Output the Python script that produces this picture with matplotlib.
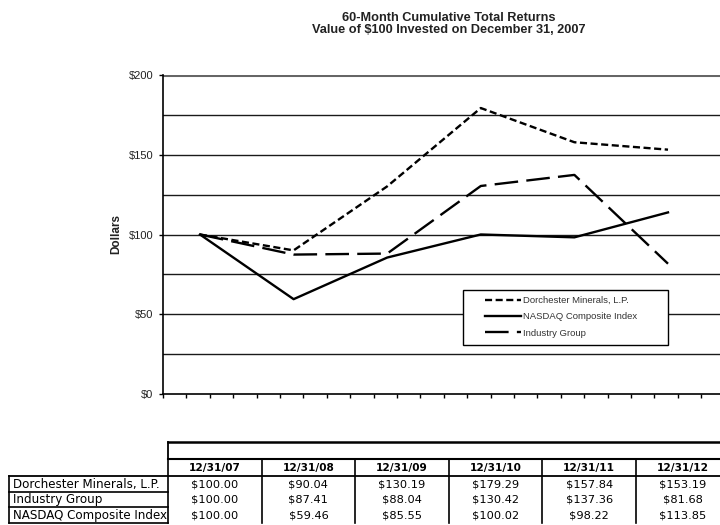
import matplotlib
matplotlib.use("Agg")
import matplotlib.pyplot as plt
from matplotlib.lines import Line2D
from matplotlib.patches import Rectangle
from matplotlib.transforms import Bbox, TransformedBbox
import numpy as np

# ---------------- data ----------------
dates = ["12/31/07", "12/31/08", "12/31/09", "12/31/10", "12/31/11", "12/31/12"]
dorchester = [100.00, 90.04, 130.19, 179.29, 157.84, 153.19]
industry = [100.00, 87.41, 88.04, 130.42, 137.36, 81.68]
nasdaq = [100.00, 59.46, 85.55, 100.02, 98.22, 113.85]
row_labels = ["Dorchester Minerals, L.P.", "Industry Group", "NASDAQ Composite Index"]
title_lines = ["60-Month Cumulative Total Returns",
               "Value of $100 Invested on December 31, 2007"]
y_label = "Dollars"
y_ticks = [0, 50, 100, 150, 200]
y_grid = [25, 50, 75, 100, 125, 150, 175]

# ---------------- layout helpers (pixels) ----------------
W, H = 720, 525
fig = plt.figure(figsize=(7.2, 5.25), dpi=100)

def fx(px):
    return px / W

def fy(py):
    return 1 - py / H

ax_l, ax_r, ax_t, ax_b = 163, 720, 75, 394
ax = fig.add_axes([fx(ax_l), fy(ax_b), (ax_r - ax_l) / W, (ax_b - ax_t) / H])

step_px = 93.6
first_px = 200
x = np.arange(len(dates))
x0 = -(first_px - ax_l) / step_px
x1 = (ax_r - first_px) / step_px
ax.set_xlim(x0, x1)
ax.set_ylim(0, 200)

for g in y_grid:
    ax.axhline(g, color="#1a1a1a", lw=1.0, zorder=1)
ax.axhline(200, color="#666666", lw=2.2, zorder=1)

ax.plot(x, dorchester, color="black", lw=1.7, dashes=(3.0, 1.5), zorder=3)
ax.plot(x, nasdaq, color="black", lw=1.7, zorder=3)
ax.plot(x, industry, color="black", lw=1.7, dashes=(10, 3.5), zorder=3)

for s in ["top", "right"]:
    ax.spines[s].set_visible(False)
for s in ["left", "bottom"]:
    ax.spines[s].set_color("black")
    ax.spines[s].set_linewidth(1.2)

ax.set_yticks(y_ticks)
ax.set_yticklabels(["$%d" % v for v in y_ticks], family="Liberation Sans",
                   fontsize=8, color="#222222")
ax.tick_params(axis="y", length=3, width=1, direction="out", pad=4)
ax.set_xticks(np.arange(x0, x1, 0.25))
ax.set_xticklabels([])
ax.tick_params(axis="x", length=3, width=1, direction="out")

ax.set_ylabel(y_label, family="Liberation Sans", fontsize=8.5, fontweight="bold",
              color="#222222")
ax.yaxis.set_label_coords(-0.074, 0.5)

# legend frame
ax.add_patch(Rectangle((fx(463), fy(345)), fx(668 - 463), (345 - 290) / H,
                       transform=fig.transFigure, facecolor="white",
                       edgecolor="black", lw=1.0, clip_on=False, zorder=4))
handles = [Line2D([], [], color="black", lw=1.7, dashes=(3.0, 1.5)),
           Line2D([], [], color="black", lw=1.7),
           Line2D([], [], color="black", lw=1.7, dashes=(10, 3.5))]
leg_labels = [row_labels[0], row_labels[2], row_labels[1]]
leg = ax.legend(handles, leg_labels, loc="upper left",
                bbox_to_anchor=(fx(485), fy(296)), bbox_transform=fig.transFigure,
                frameon=False, prop={"family": "Liberation Sans", "size": 6.8},
                handlelength=3.8, handletextpad=0.25, labelspacing=0.78,
                borderpad=0, borderaxespad=0)
leg.set_zorder(5)
for t in leg.get_texts():
    t.set_color("#333333")

# title
fig.text(fx(449), fy(24), "\n".join(title_lines), ha="center", va="center",
         family="Liberation Sans", fontweight="bold", fontsize=9.2,
         color="#222222", linespacing=1.1)

# ---------------- table ----------------
tax = fig.add_axes([0, 0, 1, 1])
tax.set_xlim(0, W)
tax.set_ylim(H, 0)
tax.axis("off")

col0 = 168
edges = [col0 + step_px * k for k in range(len(dates) + 1)]
lab_l = 9
y_top, y_hdr, y_data = 442, 459, 476
row_h = 15.5
y_rows = [y_data + row_h * k for k in range(len(row_labels) + 1)]

lc = "black"
tax.plot([col0, W + 20], [y_top, y_top], color=lc, lw=1.8)
tax.plot([col0, col0], [y_top, y_hdr], color=lc, lw=1.3)
tax.plot([col0, W + 20], [y_hdr, y_hdr], color=lc, lw=1.5)
tax.plot([lab_l, W + 20], [y_data, y_data], color=lc, lw=1.3)
for e in edges:
    tax.plot([e, e], [y_hdr, y_rows[-1]], color=lc, lw=1.2)
for yr in y_rows[1:]:
    tax.plot([lab_l, col0], [yr, yr], color=lc, lw=1.2)
tax.plot([lab_l, lab_l], [y_data, y_rows[-1]], color=lc, lw=1.2)

for k, d in enumerate(dates):
    cx = (edges[k] + edges[k + 1]) / 2
    tax.text(cx, (y_hdr + y_data) / 2 + 0.5, d, ha="center", va="center",
             family="DejaVu Sans", fontweight="bold", fontsize=7.6, color="black")

clipbox = TransformedBbox(Bbox([[lab_l, y_data], [col0 - 1, H]]), tax.transData)
table_series = [dorchester, industry, nasdaq]
for r, (lab, vals) in enumerate(zip(row_labels, table_series)):
    cy = (y_rows[r] + y_rows[r + 1]) / 2 + 0.5
    t = tax.text(lab_l + 4, cy, lab, ha="left", va="center", family="DejaVu Sans",
                 fontsize=8.6, color="black")
    t.set_clip_box(clipbox)
    t.set_clip_on(True)
    for k, v in enumerate(vals):
        cx = (edges[k] + edges[k + 1]) / 2
        tax.text(cx, cy, "$%.2f" % v, ha="center", va="center",
                 family="DejaVu Sans", fontsize=8.2, color="black")

fig.savefig("out.png", dpi=100)
